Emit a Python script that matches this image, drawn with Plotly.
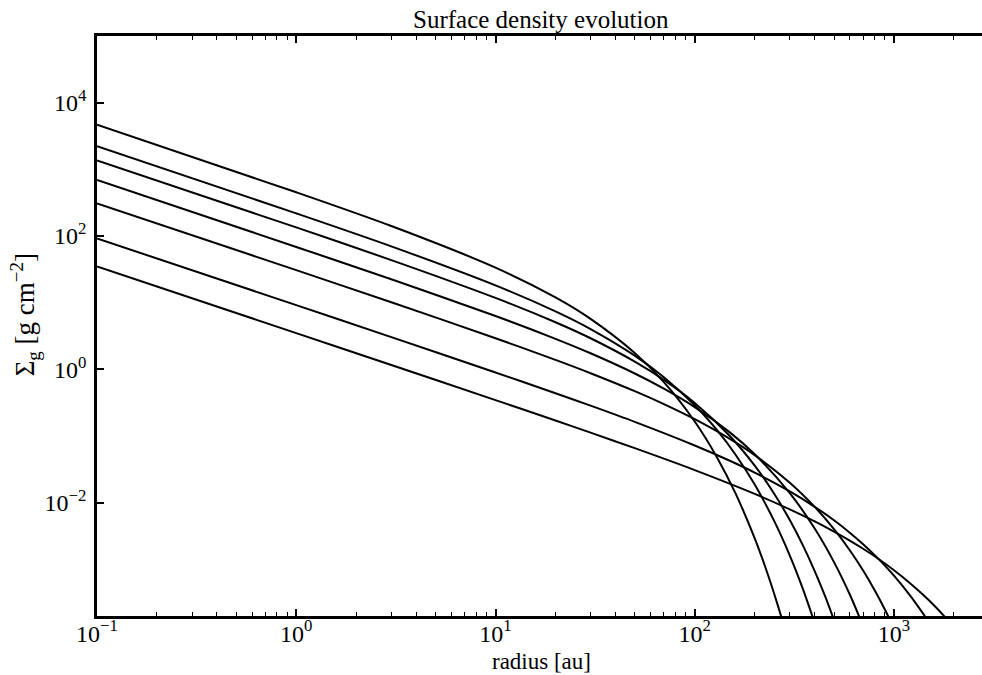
import plotly.graph_objects as go

# ---- data (radius in au, Sigma_g in g cm^-2) ----
r_1 = [0.1, 1, 3, 10, 20, 30, 50, 70, 100, 130, 160, 200, 230, 260, 280]
sigma_1 = [4660, 452.6, 141.1, 33.5, 11.99, 5.72, 1.759, 0.643, 0.1651, 0.04655, 0.01388, 0.002913, 9.29e-4, 3.01e-4, 1.43e-4]

r_2 = [0.1, 1, 3, 10, 20, 30, 50, 70, 100, 130, 160, 200, 250, 300, 350, 400]
sigma_2 = [2225, 218.5, 69.9, 18.17, 7.41, 4.024, 1.604, 0.7614, 0.2885, 0.1201, 0.05287, 0.01866, 0.005371, 0.001609, 4.96e-4, 1.561e-4]

r_3 = [0.1, 1, 3, 10, 20, 30, 50, 70, 100, 150, 200, 250, 300, 350, 400, 450, 500]
sigma_3 = [1363, 134.5, 43.53, 11.78, 5.084, 2.925, 1.307, 0.6956, 0.313, 0.0999, 0.03588, 0.01374, 0.005483, 0.002251, 9.43e-4, 4.02e-4, 1.731e-4]

r_4 = [0.1, 1, 3, 10, 20, 30, 50, 70, 100, 150, 200, 300, 400, 500, 600, 700]
sigma_4 = [691.4, 68.56, 22.43, 6.302, 2.869, 1.742, 0.8665, 0.5133, 0.2713, 0.1133, 0.05318, 0.0139, 0.004088, 0.001282, 4.19e-4, 1.408e-4]

r_5 = [0.1, 1, 3, 10, 20, 30, 50, 70, 100, 150, 200, 300, 400, 500, 600, 700, 800, 900, 1000]
sigma_5 = [308.8, 30.73, 10.13, 2.926, 1.385, 0.8742, 0.4701, 0.301, 0.1788, 0.09068, 0.05174, 0.01996, 0.00866, 0.00401, 0.001934, 9.59e-4, 4.86e-4, 2.50e-4, 1.30e-4]

r_6 = [0.1, 1, 3, 10, 20, 30, 50, 100, 150, 200, 300, 400, 500, 600, 700, 800, 900, 1000, 1200, 1400, 1500]
sigma_6 = [91.98, 9.178, 3.044, 0.8978, 0.4381, 0.285, 0.1629, 0.07208, 0.04254, 0.02824, 0.01475, 0.008671, 0.005435, 0.003549, 0.002383, 0.001634, 0.001138, 8.03e-4, 4.107e-4, 2.161e-4, 1.58e-4]

r_7 = [0.1, 1, 3, 10, 20, 30, 50, 100, 200, 300, 400, 500, 600, 700, 800, 1000, 1200, 1400, 1600, 1800, 1900]
sigma_7 = [35.0, 3.4955, 1.1622, 0.3455, 0.1706, 0.1123, 0.06565, 0.03079, 0.01354, 0.007941, 0.00524, 0.003687, 0.002703, 0.002038, 0.001569, 9.71e-4, 6.26e-4, 4.15e-4, 2.813e-4, 1.934e-4, 1.612e-4]

radii = [r_1, r_2, r_3, r_4, r_5, r_6, r_7]
sigmas = [sigma_1, sigma_2, sigma_3, sigma_4, sigma_5, sigma_6, sigma_7]

x_tickvals = [0.1, 1, 10, 100, 1000]
x_ticktext = ["10<sup>\u22121</sup>", "10<sup>0</sup>", "10<sup>1</sup>", "10<sup>2</sup>", "10<sup>3</sup>"]
y_tickvals = [1e-2, 1, 1e2, 1e4]
y_ticktext = ["10<sup>\u22122</sup>", "10<sup>0</sup>", "10<sup>2</sup>", "10<sup>4</sup>"]

title_text = "Surface density evolution"
x_label = "radius [au]"
y_label = "\u03a3<sub>g</sub> [g cm<sup>\u22122</sup>]"

FONT = "Liberation Serif"

fig = go.Figure()
for r, s in zip(radii, sigmas):
    fig.add_trace(go.Scatter(x=r, y=s, mode="lines",
                             line=dict(color="black", width=2, shape="spline", smoothing=0.8),
                             showlegend=False, hoverinfo="skip"))

minor_x = [m * 10 ** e for e in range(-1, 4) for m in range(2, 10)]

fig.update_xaxes(type="log", range=[-1, 3.4417],
                 tickvals=x_tickvals, ticktext=x_ticktext,
                 ticks="inside", ticklen=7, tickwidth=2, tickcolor="black",
                 showline=True, linecolor="black", linewidth=2.5, mirror="ticks",
                 showgrid=False, zeroline=False,
                 minor=dict(tickvals=minor_x, ticks="inside", ticklen=4, tickwidth=1.2,
                            tickcolor="black", showgrid=False),
                 tickfont=dict(family=FONT, size=24, color="black"),
                 ticklabelstandoff=-6)
fig.update_yaxes(type="log", range=[-3.7, 5],
                 tickvals=y_tickvals, ticktext=y_ticktext,
                 ticks="inside", ticklen=7, tickwidth=2, tickcolor="black",
                 showline=True, linecolor="black", linewidth=2.5, mirror=False,
                 showgrid=False, zeroline=False,
                 tickfont=dict(family=FONT, size=24, color="black"),
                 ticklabelstandoff=3)

fig.update_layout(
    width=982, height=675,
    margin=dict(l=97, r=0, t=36, b=59),
    paper_bgcolor="white", plot_bgcolor="white",
    font=dict(family=FONT, color="black"),
    annotations=[
        dict(text=title_text, xref="paper", yref="paper", x=0.502, y=1.029,
             xanchor="center", yanchor="middle", showarrow=False,
             font=dict(family=FONT, size=25, color="black")),
        dict(text=x_label, xref="paper", yref="paper", x=0.502, y=-0.0776,
             xanchor="center", yanchor="middle", showarrow=False,
             font=dict(family=FONT, size=23, color="black")),
        dict(text=y_label, xref="paper", yref="paper", x=-0.0814, y=0.52,
             xanchor="center", yanchor="middle", showarrow=False, textangle=-90,
             font=dict(family=FONT, size=27, color="black")),
    ],
)

fig.write_html("out.html")
